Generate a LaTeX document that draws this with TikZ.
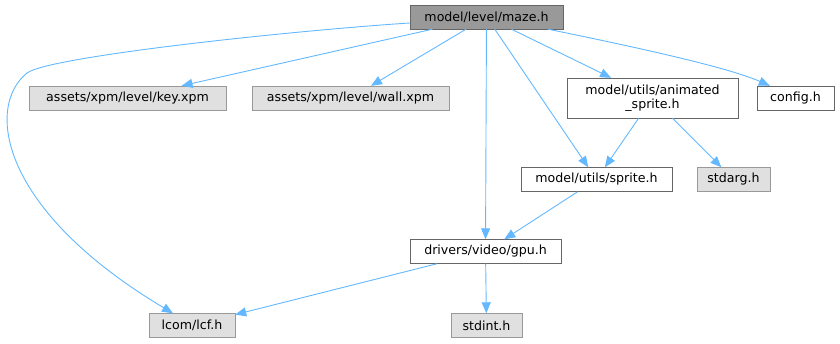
\documentclass[tikz,border=0pt]{standalone}
\usepackage{fontspec}
\setmainfont{DejaVu Sans}
\usepackage{tikz}
\usetikzlibrary{arrows.meta}
\definecolor{edgeblue}{HTML}{63B8FF}
\definecolor{boxgray}{HTML}{E0E0E0}
\tikzset{
every node/.style={rectangle, draw, inner sep=2pt, font=\fontsize{12.6}{14.5}\selectfont, minimum height=24pt},
main/.style={fill=black!40, draw=black!60},
local/.style={fill=white, draw=black!60},
extern/.style={fill=boxgray, draw=black!40},
dep/.style={draw=edgeblue, line width=0.9pt, -{Triangle[length=11pt,width=9pt]}}
}

\begin{document}
\begin{tikzpicture}[x=1pt, y=-1pt]
\useasboundingbox (0,0) rectangle (840,344);

\node[main, minimum width=153pt] (maze) at (486.5,17) {model/level/maze.h};
\node[extern, minimum width=197pt] (key) at (127.5,98) {assets/xpm/level/key.xpm};
\node[extern, minimum width=197pt] (wall) at (350.5,98) {assets/xpm/level/wall.xpm};
\node[local, minimum width=171pt, minimum height=40pt, align=center] (anim) at (652.5,98) {model/utils/animated\\\_sprite.h};
\node[local, minimum width=77pt] (config) at (795.5,98) {config.h};
\node[local, minimum width=151pt] (sprite) at (596.5,179.5) {model/utils/sprite.h};
\node[extern, minimum width=73pt] (stdarg) at (733.5,179.5) {stdarg.h};
\node[local, minimum width=151pt] (gpu) at (485.5,251.5) {drivers/video/gpu.h};
\node[extern, minimum width=86pt] (lcf) at (192,325.5) {lcom/lcf.h};
\node[extern, minimum width=71pt] (stdint) at (486.5,325.5) {stdint.h};

% includes of maze.h
\draw[dep] (maze.west |- 0,23) .. controls (300,30) and (50,56) .. (27,73)
  .. controls (-15,107) and (0,210) .. (lcf.north west -| 173,0);
\draw[dep] (maze) -- (key);
\draw[dep] (maze) -- (wall);
\draw[dep] (maze) -- (gpu);
\draw[dep] (maze) -- (sprite);
\draw[dep] (maze) -- (anim);
\draw[dep] ([xshift=-15pt]maze.south east) .. controls (620,44) and (725,66) .. ([xshift=13pt]config.north west);

% includes of the sprite headers
\draw[dep] (anim) -- (sprite);
\draw[dep] (anim) -- (stdarg);
\draw[dep] (sprite) -- (gpu);

% includes of gpu.h
\draw[dep] (gpu) -- (lcf);
\draw[dep] (gpu) -- (stdint);
\end{tikzpicture}
\end{document}
